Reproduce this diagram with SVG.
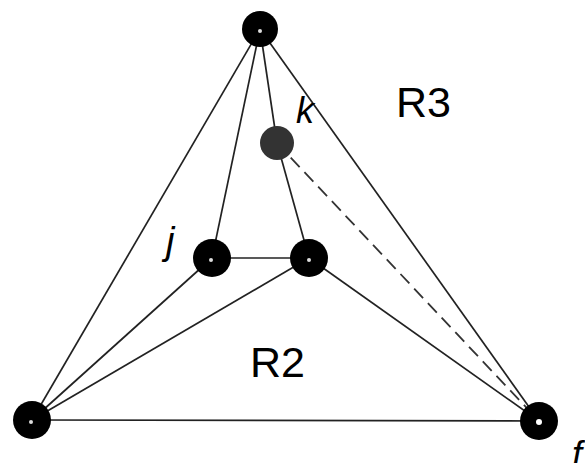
<svg xmlns="http://www.w3.org/2000/svg" width="585" height="463" viewBox="0 0 585 463">
<style>
.e{stroke:#222;stroke-width:1.7;fill:none}
.d{stroke:#333;stroke-width:1.8;fill:none;stroke-dasharray:13 7}
.n{fill:#000}
.c{fill:#ddd}
.t{font-family:"Liberation Sans",Arial,sans-serif;fill:#000}
.i{font-style:italic}
</style>
<rect width="585" height="463" fill="#fff"/>
<g id="connectors">
<line class="e" x1="260" y1="29" x2="32" y2="420"/>
<line class="e" x1="260" y1="29" x2="539" y2="421"/>
<line class="e" x1="260" y1="29" x2="212" y2="258"/>
<line class="e" x1="260" y1="29" x2="277" y2="143"/>
<line class="e" x1="277" y1="143" x2="309" y2="258"/>
<line class="e" x1="212" y1="258" x2="309" y2="258"/>
<line class="e" x1="32" y1="420" x2="212" y2="258"/>
<line class="e" x1="32" y1="420" x2="309" y2="258"/>
<line class="e" x1="32" y1="420" x2="539" y2="421"/>
<line class="e" x1="309" y1="258" x2="539" y2="421"/>
<line class="d" x1="277" y1="143" x2="539" y2="421"/>
</g>
<g id="node-top"><circle class="n" cx="260" cy="29" r="18"/><circle class="c" cx="260" cy="31" r="2"/></g>
<g id="node-left"><circle class="n" cx="32" cy="420" r="19"/><circle class="c" cx="31" cy="422" r="2"/></g>
<g id="node-right"><circle class="n" cx="539" cy="421" r="19"/><circle fill="#fff" cx="539" cy="422" r="3"/></g>
<g id="node-j"><circle class="n" cx="212" cy="258" r="19"/><circle class="c" cx="211" cy="260" r="2"/></g>
<g id="node-inner"><circle class="n" cx="309" cy="258" r="19"/><circle class="c" cx="309" cy="260" r="2"/></g>
<g id="node-k"><circle fill="#333" cx="277" cy="143" r="17"/></g>
<text class="t i" x="296" y="123" font-size="36">k</text>
<text class="t i" x="166" y="254" font-size="38">j</text>
<text class="t" x="396" y="117" font-size="43">R3</text>
<text class="t" x="250" y="377" font-size="43">R2</text>
<text class="t i" x="572" y="467" font-size="36">f</text>
</svg>
